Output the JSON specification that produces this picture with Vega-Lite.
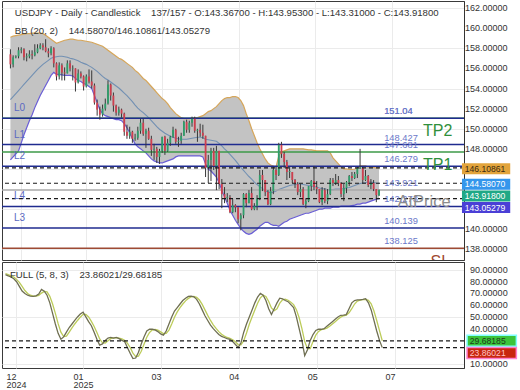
{
"$schema": "https://vega.github.io/schema/vega-lite/v6.json",
"padding": 0,
"background": "white",
"spacing": 0,
"config": {"font": "Liberation Sans", "view": {"stroke": "#3a3a3a", "strokeWidth": 1}, "axis": {"labelFont": "Liberation Sans", "labelColor": "#333333", "labelFontSize": 9, "gridColor": "#ebebeb", "domainColor": "#333333", "labelOverlap": false, "labelFlush": false}},
"datasets": {
"bars": [
{"i":0,"o":157.4,"h":157.9,"l":156.0,"c":156.4,"u":159.1,"m":152.9,"lo":146.9,"k":86,"d":87},
{"i":1,"o":156.4,"h":157.3,"l":156.1,"c":157.1,"u":159.2,"m":153.2,"lo":147.2,"k":85,"d":86},
{"i":2,"o":157.1,"h":157.3,"l":157.0,"c":157.2,"u":159.25,"m":153.5,"lo":147.5,"k":84,"d":85},
{"i":3,"o":157.2,"h":158.1,"l":157.0,"c":157.8,"u":159.3,"m":153.8,"lo":147.8,"k":82.5,"d":84},
{"i":4,"o":157.8,"h":158.1,"l":157.5,"c":157.9,"u":159.35,"m":154.1,"lo":148.6,"k":80,"d":82},
{"i":5,"o":157.9,"h":158.0,"l":156.8,"c":157.1,"u":159.4,"m":154.4,"lo":149.4,"k":76,"d":79.5},
{"i":6,"o":157.1,"h":157.5,"l":156.7,"c":157.2,"u":159.45,"m":154.7,"lo":150.1,"k":72,"d":76},
{"i":7,"o":157.2,"h":157.8,"l":157.0,"c":157.4,"u":159.45,"m":155.0,"lo":150.8,"k":70,"d":72.5},
{"i":8,"o":157.4,"h":157.8,"l":156.9,"c":157.3,"u":159.5,"m":155.3,"lo":151.4,"k":68.5,"d":70},
{"i":9,"o":157.3,"h":158.4,"l":157.2,"c":157.6,"u":159.5,"m":155.6,"lo":152.1,"k":67.8,"d":68.5},
{"i":10,"o":157.6,"h":158.4,"l":157.5,"c":158.0,"u":159.5,"m":155.9,"lo":152.7,"k":67.5,"d":67.8},
{"i":11,"o":158.0,"h":158.5,"l":157.9,"c":158.3,"u":159.5,"m":156.15,"lo":153.3,"k":68,"d":67.7},
{"i":12,"o":158.3,"h":158.5,"l":157.8,"c":158.1,"u":159.45,"m":156.4,"lo":153.8,"k":69.5,"d":68.3},
{"i":13,"o":158.1,"h":158.9,"l":157.6,"c":157.7,"u":159.3,"m":156.6,"lo":154.3,"k":73.5,"d":70.3},
{"i":14,"o":157.7,"h":158.0,"l":157.1,"c":157.5,"u":159.1,"m":156.8,"lo":154.8,"k":72,"d":71.7},
{"i":15,"o":157.5,"h":158.2,"l":157.3,"c":158.0,"u":158.9,"m":157.0,"lo":155.3,"k":68.5,"d":71.3},
{"i":16,"o":158.0,"h":158.1,"l":156.1,"c":156.5,"u":158.7,"m":157.1,"lo":155.6,"k":62,"d":67.5},
{"i":17,"o":156.5,"h":156.6,"l":154.8,"c":155.2,"u":158.5,"m":157.15,"lo":155.4,"k":53,"d":61},
{"i":18,"o":155.2,"h":156.6,"l":154.9,"c":156.3,"u":158.6,"m":157.2,"lo":155.4,"k":44,"d":53},
{"i":19,"o":156.3,"h":156.5,"l":154.8,"c":155.6,"u":158.7,"m":157.2,"lo":155.35,"k":36,"d":44.3},
{"i":20,"o":155.6,"h":156.1,"l":154.8,"c":155.5,"u":158.8,"m":157.15,"lo":155.3,"k":31,"d":37},
{"i":21,"o":155.5,"h":156.8,"l":155.5,"c":156.5,"u":158.85,"m":157.1,"lo":155.3,"k":33,"d":33.3},
{"i":22,"o":156.5,"h":156.8,"l":155.7,"c":156.0,"u":158.9,"m":157.0,"lo":155.3,"k":37,"d":33.7},
{"i":23,"o":156.0,"h":156.3,"l":154.8,"c":156.05,"u":158.9,"m":156.95,"lo":155.25,"k":41,"d":37},
{"i":24,"o":156.0,"h":156.0,"l":153.7,"c":154.6,"u":158.85,"m":156.85,"lo":155.0,"k":44,"d":40.7},
{"i":25,"o":154.6,"h":155.9,"l":154.5,"c":155.5,"u":158.8,"m":156.75,"lo":154.8,"k":47,"d":44},
{"i":26,"o":155.5,"h":155.7,"l":155.0,"c":155.2,"u":158.8,"m":156.6,"lo":154.7,"k":50,"d":47},
{"i":27,"o":155.2,"h":155.3,"l":153.8,"c":154.2,"u":158.75,"m":156.5,"lo":154.5,"k":52.5,"d":49.8},
{"i":28,"o":154.2,"h":155.4,"l":154.1,"c":155.2,"u":158.7,"m":156.4,"lo":154.4,"k":54,"d":52.2},
{"i":29,"o":155.2,"h":155.9,"l":154.5,"c":154.7,"u":158.65,"m":156.25,"lo":154.2,"k":50,"d":52.2},
{"i":30,"o":154.7,"h":155.8,"l":154.0,"c":154.3,"u":158.6,"m":156.1,"lo":154.0,"k":46,"d":50},
{"i":31,"o":154.3,"h":154.5,"l":152.4,"c":152.6,"u":158.5,"m":155.9,"lo":153.3,"k":42.5,"d":46.2},
{"i":32,"o":152.6,"h":152.9,"l":151.3,"c":151.9,"u":158.4,"m":155.7,"lo":152.6,"k":37,"d":41.8},
{"i":33,"o":151.9,"h":152.2,"l":150.9,"c":151.4,"u":158.3,"m":155.45,"lo":151.9,"k":31,"d":36.8},
{"i":34,"o":151.4,"h":152.4,"l":151.2,"c":152.0,"u":158.2,"m":155.2,"lo":151.5,"k":26,"d":31.3},
{"i":35,"o":152.0,"h":153.0,"l":151.8,"c":152.5,"u":158.0,"m":155.0,"lo":151.3,"k":27,"d":28},
{"i":36,"o":152.5,"h":154.8,"l":152.4,"c":154.4,"u":157.8,"m":154.85,"lo":151.2,"k":30,"d":27.7},
{"i":37,"o":154.4,"h":154.5,"l":152.8,"c":153.3,"u":157.6,"m":154.65,"lo":151.1,"k":32,"d":29.7},
{"i":38,"o":153.3,"h":153.6,"l":151.7,"c":152.3,"u":157.4,"m":154.45,"lo":151.0,"k":32.5,"d":31.5},
{"i":39,"o":152.3,"h":152.4,"l":151.3,"c":151.6,"u":157.2,"m":154.25,"lo":150.9,"k":32,"d":32.2},
{"i":40,"o":151.6,"h":152.2,"l":151.3,"c":151.9,"u":157.0,"m":154.05,"lo":150.9,"k":32.5,"d":32.3},
{"i":41,"o":151.9,"h":152.0,"l":151.1,"c":151.5,"u":156.9,"m":153.8,"lo":150.8,"k":31.5,"d":32},
{"i":42,"o":151.5,"h":151.6,"l":149.3,"c":149.7,"u":156.7,"m":153.55,"lo":150.5,"k":30,"d":31.3},
{"i":43,"o":149.7,"h":150.4,"l":149.0,"c":149.3,"u":156.5,"m":153.3,"lo":150.1,"k":29,"d":30.2},
{"i":44,"o":149.3,"h":150.2,"l":149.0,"c":149.7,"u":156.3,"m":153.0,"lo":149.6,"k":24,"d":27.7},
{"i":45,"o":149.7,"h":149.8,"l":148.6,"c":149.0,"u":156.1,"m":152.7,"lo":149.0,"k":19,"d":24},
{"i":46,"o":149.0,"h":149.5,"l":148.8,"c":149.1,"u":155.8,"m":152.35,"lo":148.5,"k":14.5,"d":19.2},
{"i":47,"o":149.1,"h":150.2,"l":148.9,"c":149.8,"u":155.6,"m":152.05,"lo":148.2,"k":15,"d":16.2},
{"i":48,"o":149.8,"h":151.0,"l":149.5,"c":150.6,"u":155.3,"m":151.8,"lo":148.0,"k":20,"d":16.5},
{"i":49,"o":150.6,"h":151.0,"l":149.3,"c":149.5,"u":155.0,"m":151.6,"lo":147.8,"k":27,"d":20.7},
{"i":50,"o":149.5,"h":150.0,"l":148.1,"c":149.8,"u":154.8,"m":151.35,"lo":147.6,"k":33,"d":26.7},
{"i":51,"o":149.8,"h":150.1,"l":148.9,"c":149.0,"u":154.5,"m":151.1,"lo":147.3,"k":38,"d":32.7},
{"i":52,"o":149.0,"h":149.3,"l":147.3,"c":147.9,"u":154.2,"m":150.8,"lo":147.0,"k":39.5,"d":36.8},
{"i":53,"o":147.9,"h":148.5,"l":146.9,"c":148.0,"u":153.9,"m":150.5,"lo":146.8,"k":39.5,"d":39},
{"i":54,"o":148.0,"h":148.2,"l":146.6,"c":147.2,"u":153.6,"m":150.2,"lo":146.7,"k":39,"d":39.3},
{"i":55,"o":147.2,"h":148.0,"l":146.5,"c":147.8,"u":153.3,"m":149.95,"lo":146.6,"k":37.5,"d":38.7},
{"i":56,"o":147.8,"h":149.2,"l":147.6,"c":149.2,"u":153.0,"m":149.75,"lo":146.6,"k":35.5,"d":37.3},
{"i":57,"o":149.2,"h":149.3,"l":147.4,"c":147.8,"u":152.8,"m":149.55,"lo":146.7,"k":34.5,"d":35.8},
{"i":58,"o":147.8,"h":149.0,"l":147.7,"c":148.6,"u":152.5,"m":149.4,"lo":146.8,"k":38,"d":36},
{"i":59,"o":148.6,"h":149.3,"l":148.3,"c":149.2,"u":152.1,"m":149.25,"lo":146.9,"k":44,"d":38.8},
{"i":60,"o":149.2,"h":150.2,"l":149.1,"c":149.9,"u":151.8,"m":149.15,"lo":147.0,"k":50,"d":44},
{"i":61,"o":149.9,"h":150.0,"l":148.5,"c":148.7,"u":151.5,"m":149.05,"lo":147.2,"k":55,"d":49.7},
{"i":62,"o":148.7,"h":149.2,"l":148.2,"c":148.8,"u":151.3,"m":149.0,"lo":147.3,"k":58,"d":54.3},
{"i":63,"o":148.8,"h":149.6,"l":148.5,"c":149.3,"u":151.1,"m":148.95,"lo":147.3,"k":61,"d":58},
{"i":64,"o":149.3,"h":150.8,"l":149.3,"c":150.7,"u":151.0,"m":148.95,"lo":147.3,"k":64,"d":61},
{"i":65,"o":150.7,"h":150.9,"l":149.6,"c":149.9,"u":151.0,"m":148.95,"lo":147.3,"k":66,"d":63.7},
{"i":66,"o":149.9,"h":150.8,"l":149.6,"c":150.6,"u":151.0,"m":149.0,"lo":147.3,"k":67.5,"d":65.8},
{"i":67,"o":150.6,"h":151.2,"l":150.2,"c":151.0,"u":151.05,"m":149.05,"lo":147.3,"k":67.8,"d":67.1},
{"i":68,"o":151.0,"h":151.2,"l":149.6,"c":149.8,"u":151.1,"m":149.1,"lo":147.3,"k":67.2,"d":67.5},
{"i":69,"o":149.8,"h":150.0,"l":148.7,"c":149.9,"u":151.1,"m":149.15,"lo":147.3,"k":65,"d":66.7},
{"i":70,"o":149.9,"h":150.5,"l":149.2,"c":149.6,"u":151.2,"m":149.15,"lo":147.3,"k":61,"d":64.4},
{"i":71,"o":149.6,"h":150.4,"l":149.0,"c":149.3,"u":151.3,"m":149.1,"lo":147.2,"k":56,"d":60.7},
{"i":72,"o":149.3,"h":149.3,"l":145.2,"c":146.1,"u":151.5,"m":148.95,"lo":146.5,"k":51,"d":56},
{"i":73,"o":146.1,"h":147.4,"l":144.6,"c":146.9,"u":151.7,"m":148.9,"lo":146.0,"k":47,"d":51.3},
{"i":74,"o":146.9,"h":148.1,"l":144.8,"c":147.8,"u":151.8,"m":148.85,"lo":145.8,"k":43,"d":47},
{"i":75,"o":147.8,"h":148.1,"l":145.9,"c":146.3,"u":152.0,"m":148.8,"lo":145.5,"k":40,"d":43.3},
{"i":76,"o":146.3,"h":148.3,"l":143.9,"c":147.8,"u":152.2,"m":148.75,"lo":145.2,"k":37.5,"d":40.2},
{"i":77,"o":147.8,"h":147.8,"l":144.0,"c":144.5,"u":152.5,"m":148.55,"lo":144.6,"k":35,"d":37.5},
{"i":78,"o":144.5,"h":145.0,"l":142.1,"c":143.5,"u":152.8,"m":148.3,"lo":143.9,"k":33.5,"d":35.3},
{"i":79,"o":143.5,"h":144.2,"l":142.6,"c":143.1,"u":153.0,"m":148.0,"lo":143.2,"k":32.5,"d":33.7},
{"i":80,"o":143.1,"h":143.6,"l":142.7,"c":143.2,"u":153.1,"m":147.75,"lo":142.6,"k":31.5,"d":32.5},
{"i":81,"o":143.2,"h":143.4,"l":141.6,"c":141.7,"u":153.1,"m":147.45,"lo":141.9,"k":31,"d":31.7},
{"i":82,"o":141.7,"h":143.0,"l":141.6,"c":142.4,"u":153.2,"m":147.15,"lo":141.4,"k":29,"d":30.5},
{"i":83,"o":142.4,"h":142.5,"l":141.7,"c":142.2,"u":153.2,"m":146.85,"lo":140.9,"k":26.5,"d":28.8},
{"i":84,"o":142.2,"h":142.2,"l":140.6,"c":141.0,"u":153.1,"m":146.5,"lo":140.5,"k":24,"d":26.5},
{"i":85,"o":141.0,"h":141.6,"l":139.9,"c":141.4,"u":152.8,"m":146.15,"lo":140.1,"k":28,"d":26.2},
{"i":86,"o":141.4,"h":143.6,"l":141.1,"c":143.5,"u":152.3,"m":145.85,"lo":139.8,"k":37,"d":29.7},
{"i":87,"o":143.5,"h":143.6,"l":142.2,"c":142.6,"u":151.5,"m":145.55,"lo":139.6,"k":44,"d":36.3},
{"i":88,"o":142.6,"h":143.9,"l":142.6,"c":143.6,"u":150.8,"m":145.25,"lo":139.5,"k":50,"d":43.7},
{"i":89,"o":143.6,"h":144.2,"l":141.9,"c":142.0,"u":150.0,"m":145.0,"lo":139.6,"k":56,"d":50},
{"i":90,"o":142.0,"h":142.6,"l":141.9,"c":142.3,"u":149.3,"m":144.7,"lo":139.8,"k":62,"d":56},
{"i":91,"o":142.3,"h":143.4,"l":141.9,"c":143.1,"u":148.6,"m":144.45,"lo":140.0,"k":67,"d":61.7},
{"i":92,"o":143.1,"h":145.9,"l":142.9,"c":145.4,"u":148.0,"m":144.25,"lo":140.3,"k":70,"d":66.3},
{"i":93,"o":145.4,"h":145.9,"l":143.8,"c":144.9,"u":147.5,"m":144.05,"lo":140.5,"k":68.5,"d":68.5},
{"i":94,"o":144.9,"h":144.9,"l":143.3,"c":143.7,"u":147.0,"m":143.85,"lo":140.7,"k":64,"d":67.5},
{"i":95,"o":143.7,"h":143.9,"l":142.4,"c":142.5,"u":146.6,"m":143.7,"lo":140.7,"k":57,"d":63.2},
{"i":96,"o":142.5,"h":144.2,"l":142.4,"c":143.8,"u":146.4,"m":143.65,"lo":140.5,"k":52,"d":57.7},
{"i":97,"o":143.8,"h":146.2,"l":143.5,"c":145.9,"u":146.3,"m":143.7,"lo":140.4,"k":57,"d":55.3},
{"i":98,"o":145.9,"h":146.2,"l":144.9,"c":145.4,"u":146.2,"m":143.8,"lo":140.4,"k":62,"d":57},
{"i":99,"o":145.4,"h":148.6,"l":145.3,"c":148.4,"u":147.3,"m":143.95,"lo":140.3,"k":66,"d":61.7},
{"i":100,"o":148.4,"h":148.7,"l":147.1,"c":147.5,"u":147.7,"m":144.05,"lo":140.5,"k":65.5,"d":64.5},
{"i":101,"o":147.5,"h":147.7,"l":146.1,"c":146.7,"u":147.8,"m":144.15,"lo":140.7,"k":64,"d":65.2},
{"i":102,"o":146.7,"h":146.9,"l":144.9,"c":145.7,"u":147.9,"m":144.25,"lo":140.8,"k":63,"d":64.2},
{"i":103,"o":145.7,"h":146.2,"l":145.1,"c":145.8,"u":148.0,"m":144.35,"lo":141.0,"k":60.5,"d":62.5},
{"i":104,"o":145.7,"h":145.7,"l":144.6,"c":144.9,"u":148.0,"m":144.4,"lo":141.1,"k":58,"d":60.5},
{"i":105,"o":144.9,"h":145.0,"l":144.1,"c":144.5,"u":148.0,"m":144.45,"lo":141.2,"k":50,"d":56.2},
{"i":106,"o":144.5,"h":144.7,"l":143.4,"c":143.7,"u":148.0,"m":144.5,"lo":141.3,"k":40,"d":49.3},
{"i":107,"o":143.7,"h":144.5,"l":143.2,"c":144.0,"u":148.0,"m":144.5,"lo":141.4,"k":30,"d":40},
{"i":108,"o":144.0,"h":144.2,"l":142.4,"c":142.5,"u":148.0,"m":144.45,"lo":141.5,"k":17,"d":29},
{"i":109,"o":142.5,"h":143.1,"l":142.1,"c":142.8,"u":147.95,"m":144.4,"lo":141.6,"k":22,"d":23},
{"i":110,"o":142.8,"h":144.3,"l":142.7,"c":144.3,"u":147.9,"m":144.35,"lo":141.6,"k":30,"d":23},
{"i":111,"o":144.3,"h":144.9,"l":143.8,"c":144.8,"u":147.9,"m":144.3,"lo":141.7,"k":35,"d":29},
{"i":112,"o":144.8,"h":146.3,"l":143.9,"c":144.2,"u":147.85,"m":144.25,"lo":141.8,"k":38.5,"d":34.5},
{"i":113,"o":144.2,"h":144.8,"l":143.5,"c":144.0,"u":147.8,"m":144.2,"lo":141.9,"k":39.5,"d":37.7},
{"i":114,"o":144.0,"h":144.0,"l":142.6,"c":142.7,"u":147.8,"m":144.1,"lo":142.0,"k":39.5,"d":39.2},
{"i":115,"o":142.7,"h":144.2,"l":142.4,"c":143.9,"u":147.8,"m":144.05,"lo":142.0,"k":40,"d":39.7},
{"i":116,"o":143.9,"h":144.1,"l":142.6,"c":142.8,"u":147.8,"m":144.0,"lo":142.1,"k":42,"d":40.5},
{"i":117,"o":142.8,"h":144.0,"l":142.5,"c":143.5,"u":147.8,"m":143.95,"lo":142.1,"k":44,"d":42},
{"i":118,"o":143.5,"h":145.1,"l":143.4,"c":144.9,"u":147.6,"m":143.95,"lo":142.1,"k":46,"d":44},
{"i":119,"o":144.9,"h":145.1,"l":144.3,"c":144.6,"u":147.1,"m":143.95,"lo":142.2,"k":48,"d":46},
{"i":120,"o":144.6,"h":145.5,"l":144.4,"c":144.9,"u":146.8,"m":144.0,"lo":142.2,"k":50,"d":48},
{"i":121,"o":144.9,"h":145.3,"l":144.3,"c":144.6,"u":146.5,"m":144.0,"lo":142.2,"k":51.4,"d":49.8},
{"i":122,"o":144.6,"h":144.7,"l":143.2,"c":143.5,"u":146.2,"m":144.0,"lo":142.3,"k":51.5,"d":51},
{"i":123,"o":143.5,"h":144.5,"l":142.8,"c":144.1,"u":146.0,"m":144.05,"lo":142.3,"k":52,"d":51.6},
{"i":124,"o":144.1,"h":144.8,"l":143.6,"c":144.7,"u":146.0,"m":144.1,"lo":142.3,"k":57,"d":53.5},
{"i":125,"o":144.7,"h":145.4,"l":144.3,"c":145.3,"u":145.95,"m":144.15,"lo":142.3,"k":62,"d":57},
{"i":126,"o":145.3,"h":145.7,"l":144.8,"c":145.1,"u":145.95,"m":144.25,"lo":142.35,"k":64,"d":61},
{"i":127,"o":145.1,"h":145.7,"l":145.0,"c":145.5,"u":146.0,"m":144.35,"lo":142.4,"k":64.5,"d":63.5},
{"i":128,"o":145.5,"h":146.2,"l":145.1,"c":146.1,"u":146.1,"m":144.45,"lo":142.5,"k":64.5,"d":64.3},
{"i":129,"o":146.05,"h":148.0,"l":146.0,"c":146.15,"u":146.3,"m":144.55,"lo":142.5,"k":65,"d":64.7},
{"i":130,"o":146.1,"h":146.2,"l":144.6,"c":144.9,"u":146.3,"m":144.6,"lo":142.6,"k":65.6,"d":65},
{"i":131,"o":144.9,"h":145.9,"l":144.8,"c":145.3,"u":146.3,"m":144.65,"lo":142.6,"k":62,"d":64.2},
{"i":132,"o":145.3,"h":145.4,"l":144.2,"c":144.4,"u":146.2,"m":144.7,"lo":142.7,"k":56,"d":61.2},
{"i":133,"o":144.4,"h":145.0,"l":144.0,"c":144.6,"u":146.2,"m":144.7,"lo":142.8,"k":47,"d":55},
{"i":134,"o":144.6,"h":144.9,"l":143.8,"c":144.0,"u":146.15,"m":144.65,"lo":142.9,"k":38,"d":47},
{"i":135,"o":144.0,"h":144.0,"l":142.7,"c":143.4,"u":146.1,"m":144.6,"lo":143.0,"k":30,"d":38.3},
{"i":136,"o":143.367,"h":143.953,"l":143.31,"c":143.918,"u":146.10861,"m":144.5807,"lo":143.05279,"k":23.86021,"d":29.68185}
],
"levels": [
{"lab":"TP2","v":151.04,"kind":"TP"},
{"lab":"L0","v":151.04,"kind":"L"},
{"lab":"L1","v":148.427,"kind":"L"},
{"lab":"TP1","v":147.681,"kind":"TP"},
{"lab":"L2","v":146.279,"kind":"L"},
{"lab":"AtPrice","v":143.921,"kind":"AT"},
{"lab":"L4","v":142.273,"kind":"L"},
{"lab":"L3","v":140.139,"kind":"L"},
{"lab":"SL","v":138.125,"kind":"SL"}
],
"bb": [
{"s":"u","v":146.10861},
{"s":"m","v":144.5807},
{"s":"c","v":143.918},
{"s":"lo","v":143.05279}
],
"st": [
{"s":"d","v":29.68185},
{"s":"k","v":23.86021}
],
"pticks": [{"t":138},{"t":140},{"t":148},{"t":150},{"t":152},{"t":154},{"t":156},{"t":158},{"t":160},{"t":162}],
"sticks": [{"t":10},{"t":40},{"t":50},{"t":60},{"t":70},{"t":80},{"t":90}],
"head": [{"line":"USDJPY - Daily - Candlestick\u00a0\u00a0\u00a0 137/157 - O:143.36700 - H:143.95300 - L:143.31000 - C:143.91800"}],
"head2": [{"line":"BB (20, 2)\u00a0\u00a0\u00a0 144.58070/146.10861/143.05279"}],
"head3": [{"line":"FULL (5, 8, 3)\u00a0\u00a0\u00a0 23.86021/29.68185"}]
},
"vconcat": [
{
"width": 462,
"height": 259,
"layer": [
{"data": {"name": "bars"}, "mark": {"type": "area", "fill": "#c3c3c3", "opacity": 1},
 "encoding": {
  "x": {"field": "i", "type": "quantitative", "scale": {"domain": [-1.26, 165.5], "nice": false, "zero": false}, "axis": {"values": [3.8, 28, 56.1, 84.2, 112.5, 140.6], "labels": false, "ticks": false, "domain": false, "grid": true, "title": null, "minExtent": 0, "maxExtent": 0}},
  "y": {"field": "u", "type": "quantitative", "scale": {"domain": [136.95, 162.7], "nice": false, "zero": false}, "axis": {"orient": "right", "values": [138, 140, 142, 144, 146, 148, 150, 152, 154, 156, 158, 160, 162], "labels": false, "ticks": false, "grid": true, "title": null, "minExtent": 0, "maxExtent": 0}},
  "y2": {"field": "lo"}}},
{"data": {"name": "bars"}, "mark": {"type": "line", "color": "#d6a65a", "strokeWidth": 1.2}, "encoding": {"x": {"field": "i", "type": "quantitative"}, "y": {"field": "u", "type": "quantitative"}}},
{"data": {"name": "bars"}, "mark": {"type": "line", "color": "#7290b3", "strokeWidth": 1.1}, "encoding": {"x": {"field": "i", "type": "quantitative"}, "y": {"field": "m", "type": "quantitative"}}},
{"data": {"name": "bars"}, "mark": {"type": "line", "color": "#6a5ed6", "strokeWidth": 1.2}, "encoding": {"x": {"field": "i", "type": "quantitative"}, "y": {"field": "lo", "type": "quantitative"}}},
{"data": {"name": "levels"}, "mark": {"type": "rule", "strokeWidth": 1.5},
 "encoding": {"y": {"field": "v", "type": "quantitative"}, "color": {"field": "kind", "type": "nominal", "scale": {"domain": ["L", "TP", "AT", "SL"], "range": ["#1f2b8f", "#3c9a48", "#a8a8a8", "#9e4a34"]}, "legend": null}}},
{"data": {"name": "bars"}, "mark": {"type": "rule", "color": "#383838", "strokeWidth": 1}, "encoding": {"x": {"field": "i", "type": "quantitative"}, "y": {"field": "l", "type": "quantitative"}, "y2": {"field": "h"}}},
{"data": {"name": "bars"}, "mark": {"type": "bar", "width": 1.8},
 "encoding": {"x": {"field": "i", "type": "quantitative"}, "y": {"field": "o", "type": "quantitative"}, "y2": {"field": "c"},
  "color": {"condition": {"test": "datum.c >= datum.o", "value": "#2f9e6a"}, "value": "#cf3f4f"}}},
{"data": {"name": "bb"}, "transform": [{"filter": "datum.s != 'c'"}], "mark": {"type": "rule", "strokeDash": [4, 3], "color": "#1a1a1a", "strokeWidth": 1.2}, "encoding": {"y": {"field": "v", "type": "quantitative"}}},
{"data": {"name": "pticks"}, "mark": {"type": "text", "align": "left", "baseline": "middle", "fontSize": 9, "color": "#333333"},
 "encoding": {"x": {"datum": 167.7}, "y": {"field": "t", "type": "quantitative"}, "text": {"field": "t", "type": "quantitative", "format": ".5f"}}},
{"data": {"name": "head"}, "mark": {"type": "text", "align": "left", "baseline": "middle", "fontSize": 9.6, "color": "#333333"},
 "encoding": {"x": {"datum": 1.62}, "y": {"datum": 161.5}, "text": {"field": "line"}}},
{"data": {"name": "head2"}, "mark": {"type": "text", "align": "left", "baseline": "middle", "fontSize": 9.6, "color": "#333333"},
 "encoding": {"x": {"datum": 1.62}, "y": {"datum": 159.72}, "text": {"field": "line"}}},
{"data": {"name": "levels"}, "transform": [{"filter": "datum.kind == 'L'"}], "mark": {"type": "text", "align": "left", "baseline": "middle", "dy": -10, "fontSize": 10, "color": "#5b69c2"},
 "encoding": {"x": {"datum": 1.3}, "y": {"field": "v", "type": "quantitative"}, "text": {"field": "lab"}}},
{"data": {"name": "levels"}, "mark": {"type": "text", "align": "left", "baseline": "middle", "dy": -7, "fontSize": 9.3, "color": "#6b78c9"},
 "encoding": {"x": {"datum": 137.9}, "y": {"field": "v", "type": "quantitative"}, "text": {"field": "v", "type": "nominal"}}},
{"data": {"name": "levels"}, "transform": [{"filter": "datum.kind == 'TP'"}], "mark": {"type": "text", "align": "left", "baseline": "middle", "dy": 13, "fontSize": 16, "color": "#2f8f3c"},
 "encoding": {"x": {"datum": 152.2}, "y": {"field": "v", "type": "quantitative"}, "text": {"field": "lab"}}},
{"data": {"name": "levels"}, "transform": [{"filter": "datum.kind == 'AT'"}], "mark": {"type": "text", "align": "left", "baseline": "middle", "dy": 12, "fontSize": 16.5, "color": "#8c8c8c"},
 "encoding": {"x": {"datum": 142.8}, "y": {"field": "v", "type": "quantitative"}, "text": {"field": "lab"}}},
{"data": {"name": "levels"}, "transform": [{"filter": "datum.kind == 'SL'"}], "mark": {"type": "text", "align": "left", "baseline": "middle", "dy": 14, "fontSize": 16, "color": "#a04a30", "clip": true},
 "encoding": {"x": {"datum": 155}, "y": {"field": "v", "type": "quantitative"}, "text": {"field": "lab"}}},
{"data": {"name": "bb"}, "transform": [{"filter": "datum.s == 'u'"}], "mark": {"type": "rect", "color": "#e2a43c", "yOffset": -4.7, "y2Offset": 6.3},
 "encoding": {"x": {"datum": 166.6}, "x2": {"datum": 184.4}, "y": {"field": "v", "type": "quantitative"}, "y2": {"field": "v"}}},
{"data": {"name": "bb"}, "transform": [{"filter": "datum.s == 'u'"}], "mark": {"type": "text", "align": "left", "baseline": "middle", "dy": 0.8, "fontSize": 8.6, "color": "#3a2a10"},
 "encoding": {"x": {"datum": 167.6}, "y": {"field": "v", "type": "quantitative"}, "text": {"field": "v", "type": "quantitative", "format": ".5f"}}},
{"data": {"name": "bb"}, "transform": [{"filter": "datum.s == 'm'"}], "mark": {"type": "rect", "color": "#3496ec", "yOffset": -4.5, "y2Offset": 6.5},
 "encoding": {"x": {"datum": 166.6}, "x2": {"datum": 184.4}, "y": {"field": "v", "type": "quantitative"}, "y2": {"field": "v"}}},
{"data": {"name": "bb"}, "transform": [{"filter": "datum.s == 'm'"}], "mark": {"type": "text", "align": "left", "baseline": "middle", "dy": 1, "fontSize": 8.6, "color": "#ffffff"},
 "encoding": {"x": {"datum": 167.6}, "y": {"field": "v", "type": "quantitative"}, "text": {"field": "v", "type": "quantitative", "format": ".5f"}}},
{"data": {"name": "bb"}, "transform": [{"filter": "datum.s == 'c'"}], "mark": {"type": "rect", "color": "#1fa886", "yOffset": 0.5, "y2Offset": 11.5},
 "encoding": {"x": {"datum": 166.6}, "x2": {"datum": 184.4}, "y": {"field": "v", "type": "quantitative"}, "y2": {"field": "v"}}},
{"data": {"name": "bb"}, "transform": [{"filter": "datum.s == 'c'"}], "mark": {"type": "text", "align": "left", "baseline": "middle", "dy": 6, "fontSize": 8.6, "color": "#ffffff"},
 "encoding": {"x": {"datum": 167.6}, "y": {"field": "v", "type": "quantitative"}, "text": {"field": "v", "type": "quantitative", "format": ".5f"}}},
{"data": {"name": "bb"}, "transform": [{"filter": "datum.s == 'lo'"}], "mark": {"type": "rect", "color": "#4b3fd6", "yOffset": 3.5, "y2Offset": 14.5},
 "encoding": {"x": {"datum": 166.6}, "x2": {"datum": 184.4}, "y": {"field": "v", "type": "quantitative"}, "y2": {"field": "v"}}},
{"data": {"name": "bb"}, "transform": [{"filter": "datum.s == 'lo'"}], "mark": {"type": "text", "align": "left", "baseline": "middle", "dy": 9, "fontSize": 8.6, "color": "#ffffff"},
 "encoding": {"x": {"datum": 167.6}, "y": {"field": "v", "type": "quantitative"}, "text": {"field": "v", "type": "quantitative", "format": ".5f"}}}
]
},
{
"width": 462,
"height": 106,
"layer": [
{"data": {"name": "bars"}, "mark": {"type": "line", "color": "#bccc5a", "strokeWidth": 1.3},
 "encoding": {
  "x": {"field": "i", "type": "quantitative", "scale": {"domain": [-1.26, 165.5], "nice": false, "zero": false}, "axis": {"values": [3.8, 28, 56.1, 84.2, 112.5, 140.6], "labelExpr": "datum.value < 10 ? ['\u00a0\u00a012','2024'] : datum.value < 40 ? ['\u00a0\u00a001','2025'] : datum.value < 70 ? '\u00a0\u00a003' : datum.value < 100 ? '\u00a0\u00a004' : datum.value < 130 ? '\u00a0\u00a005' : '\u00a0\u00a007'", "labelAlign": "left", "labelOffset": -10, "ticks": false, "domain": false, "grid": true, "labelFontSize": 9, "labelPadding": 4, "labelLineHeight": 8.5, "labelOverlap": false, "labelFlush": false, "title": null}},
  "y": {"field": "d", "type": "quantitative", "scale": {"domain": [6.5, 96.8], "nice": false, "zero": false}, "axis": {"orient": "right", "values": [10, 20, 30, 40, 50, 60, 70, 80, 90], "labels": false, "ticks": false, "grid": true, "title": null, "minExtent": 0, "maxExtent": 0}}}},
{"data": {"name": "bars"}, "mark": {"type": "line", "color": "#6f6f52", "strokeWidth": 1.3}, "encoding": {"x": {"field": "i", "type": "quantitative"}, "y": {"field": "k", "type": "quantitative"}}},
{"data": {"name": "st"}, "mark": {"type": "rule", "strokeDash": [4, 3], "color": "#1a1a1a", "strokeWidth": 1.2}, "encoding": {"y": {"field": "v", "type": "quantitative"}}},
{"data": {"name": "sticks"}, "mark": {"type": "text", "align": "left", "baseline": "middle", "fontSize": 9, "color": "#333333"},
 "encoding": {"x": {"datum": 167.7}, "y": {"field": "t", "type": "quantitative"}, "text": {"field": "t", "type": "quantitative", "format": ".5f"}}},
{"data": {"name": "head3"}, "mark": {"type": "text", "align": "left", "baseline": "middle", "fontSize": 9.6, "color": "#333333"},
 "encoding": {"x": {"datum": 1.62}, "y": {"datum": 85.7}, "text": {"field": "line"}}},
{"data": {"name": "st"}, "transform": [{"filter": "datum.s == 'd'"}], "mark": {"type": "rect", "color": "#3bc43b", "stroke": "#80ffff", "strokeWidth": 1.5, "yOffset": -5.5, "y2Offset": 5.5},
 "encoding": {"x": {"datum": 166.6}, "x2": {"datum": 184.4}, "y": {"field": "v", "type": "quantitative"}, "y2": {"field": "v"}}},
{"data": {"name": "st"}, "transform": [{"filter": "datum.s == 'd'"}], "mark": {"type": "text", "align": "left", "baseline": "middle", "dy": 0, "fontSize": 8.6, "color": "#1b3b1b"},
 "encoding": {"x": {"datum": 167.6}, "y": {"field": "v", "type": "quantitative"}, "text": {"field": "v", "type": "quantitative", "format": ".5f"}}},
{"data": {"name": "st"}, "transform": [{"filter": "datum.s == 'k'"}], "mark": {"type": "rect", "color": "#c8260e", "stroke": "#ff80d0", "strokeWidth": 1.5, "yOffset": 0, "y2Offset": 11},
 "encoding": {"x": {"datum": 166.6}, "x2": {"datum": 184.4}, "y": {"field": "v", "type": "quantitative"}, "y2": {"field": "v"}}},
{"data": {"name": "st"}, "transform": [{"filter": "datum.s == 'k'"}], "mark": {"type": "text", "align": "left", "baseline": "middle", "dy": 5.5, "fontSize": 8.6, "color": "#ffc4c4"},
 "encoding": {"x": {"datum": 167.6}, "y": {"field": "v", "type": "quantitative"}, "text": {"field": "v", "type": "quantitative", "format": ".5f"}}}
]
}
]
}
